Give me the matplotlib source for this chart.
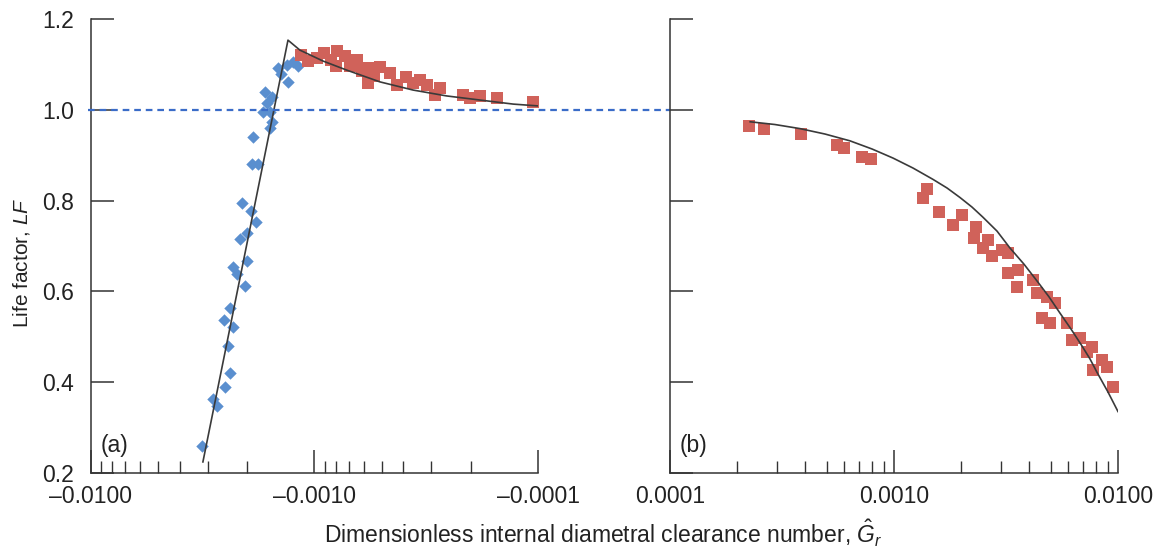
import numpy as np
import matplotlib
matplotlib.use("Agg")
import matplotlib.pyplot as plt
from matplotlib.ticker import FixedLocator, LogLocator, NullFormatter, FuncFormatter

plt.rcParams['font.family'] = ['Liberation Sans', 'DejaVu Sans']
plt.rcParams['mathtext.fontset'] = 'custom'
plt.rcParams['mathtext.rm'] = 'Liberation Sans'
plt.rcParams['mathtext.it'] = 'Liberation Sans:italic'

# ---- data ----
# (a) negative clearance: measured points (blue diamonds)
gr_a_neg = [-0.00319, -0.00283, -0.002734, -0.002509, -0.002384, -0.002426, -0.002318,
            -0.002528, -0.002384, -0.002043, -0.002225, -0.002304, -0.001995, -0.002151,
            -0.002007, -0.00183, -0.001927, -0.002113, -0.001907, -0.001782, -0.001875,
            -0.001579, -0.001552, -0.001692, -0.001579, -0.001634, -0.001552, -0.001663,
            -0.001308, -0.00145, -0.00133, -0.00118, -0.00141, -0.001246]
lf_a_neg = [0.260, 0.362, 0.347, 0.389, 0.421, 0.480, 0.522,
            0.537, 0.563, 0.612, 0.638, 0.654, 0.668, 0.715,
            0.729, 0.752, 0.778, 0.796, 0.882, 0.882, 0.940,
            0.960, 0.974, 0.996, 0.996, 1.015, 1.029, 1.040,
            1.061, 1.092, 1.099, 1.096, 1.079, 1.106]

# (a) negative clearance: measured points (red squares)
gr_a_pos = [-0.001148, -0.001068, -0.000974, -0.000906, -0.000843, -0.000793, -0.000801,
            -0.00073, -0.000693, -0.000645, -0.000613, -0.000576, -0.000576, -0.000542,
            -0.000509, -0.000459, -0.000427, -0.00039, -0.000362, -0.000337, -0.000314,
            -0.000289, -0.000275, -0.000217, -0.000202, -0.000182, -0.000153, -0.000105]
lf_a_pos = [1.121, 1.108, 1.115, 1.126, 1.110, 1.130, 1.097,
            1.119, 1.097, 1.110, 1.086, 1.093, 1.060, 1.075,
            1.095, 1.082, 1.055, 1.073, 1.060, 1.066, 1.055,
            1.033, 1.049, 1.033, 1.026, 1.031, 1.026, 1.018]

# (a) fitted curve
fit_a_gr = [-0.00315, -0.001312, -0.00116, -0.000915, -0.000717, -0.000509, -0.000362,
            -0.000256, -0.000182, -0.000129, -0.0001]
fit_a_lf = [0.224, 1.154, 1.132, 1.108, 1.088, 1.062, 1.044, 1.031, 1.022, 1.013, 1.009]

# (b) positive clearance: measured points
gr_b = [0.000226, 0.000263, 0.000385, 0.000555, 0.0006, 0.000718, 0.000787,
        0.001399, 0.001351, 0.001593, 0.002006, 0.00184, 0.002323, 0.002275,
        0.002636, 0.002489, 0.003026, 0.002731, 0.003238, 0.003588, 0.00353,
        0.004187, 0.004336, 0.004806, 0.005233, 0.004564, 0.00497, 0.005902,
        0.006213, 0.006768, 0.007252, 0.007633, 0.008456, 0.007759, 0.008905,
        0.009528, 0.003238]
lf_b = [0.965, 0.958, 0.946, 0.923, 0.916, 0.896, 0.891,
        0.825, 0.805, 0.776, 0.768, 0.746, 0.743, 0.717,
        0.713, 0.695, 0.691, 0.677, 0.640, 0.647, 0.610,
        0.625, 0.596, 0.588, 0.574, 0.541, 0.530, 0.530,
        0.493, 0.497, 0.467, 0.478, 0.449, 0.427, 0.434,
        0.390, 0.684]

# (b) fitted curve
fit_b_gr = [0.000228, 0.000294, 0.00038, 0.000492, 0.000636, 0.000798, 0.00099,
            0.001216, 0.001493, 0.001725, 0.001971, 0.002229, 0.00249, 0.002883,
            0.00329, 0.003805, 0.00435, 0.00492, 0.00551, 0.006169, 0.0069,
            0.0075, 0.00805, 0.009025, 0.0100]
fit_b_lf = [0.974, 0.968, 0.959, 0.947, 0.932, 0.914, 0.894,
            0.872, 0.847, 0.828, 0.807, 0.786, 0.764, 0.733,
            0.696, 0.660, 0.623, 0.588, 0.552, 0.517, 0.480,
            0.451, 0.422, 0.378, 0.335]

yticks = [0.2, 0.4, 0.6, 0.8, 1.0, 1.2]
xt_values = [0.0001, 0.001, 0.01]
xt_a_labels = ['\u20130.0001', '\u20130.0010', '\u20130.0100']
xt_b_labels = ['0.0001', '0.0010', '0.0100']

# ---- style ----
BLUE = '#5a8fcf'
RED = '#d0625a'
LINE = '#3a3a3a'
DASH = '#3a6cc8'
SPINE = '#333333'
TXT = '#222222'
FS = 16.5


def label_map(labels):
    table = dict(zip(xt_values, labels))

    def fmt(v, pos):
        for k, s in table.items():
            if np.isclose(v, k, rtol=1e-6):
                return s
        return ''
    return FuncFormatter(fmt)


fig = plt.figure(figsize=(11.62, 5.48), dpi=100)
ax1 = fig.add_axes([0.07806, 0.13723, 0.38494, 0.82755])
ax2 = fig.add_axes([0.57659, 0.13723, 0.38554, 0.82755])

for ax in (ax1, ax2):
    ax.set_xscale('log')
    ax.set_ylim(0.2, 1.2)
    for s in ('top', 'right'):
        ax.spines[s].set_visible(False)
    for s in ('left', 'bottom'):
        ax.spines[s].set_color(SPINE)
        ax.spines[s].set_linewidth(1.1)
    ax.xaxis.set_major_locator(FixedLocator(xt_values))
    ax.xaxis.set_minor_locator(LogLocator(base=10, subs=np.arange(2, 10)))
    ax.xaxis.set_minor_formatter(NullFormatter())
    ax.yaxis.set_major_locator(FixedLocator(yticks))
    ax.tick_params(axis='both', which='major', direction='in', length=16.5,
                   width=1.1, color=SPINE, labelsize=FS, labelcolor=TXT)
    ax.tick_params(axis='x', which='minor', direction='in', length=8.5,
                   width=1.0, color=SPINE)
    ax.tick_params(axis='x', which='major', pad=9)
    ax.tick_params(axis='y', which='major', pad=12)

# panel (a): negative clearance on a reversed log axis of |Gr|
ax1.set_xlim(0.01, 0.0001)
ax1.xaxis.set_major_formatter(label_map(xt_a_labels))
ax1.yaxis.set_major_formatter(FuncFormatter(lambda v, p: f'{v:.1f}'))
ax1.scatter(np.abs(gr_a_neg), lf_a_neg, marker='D', s=40, color=BLUE,
            linewidths=0, zorder=2, clip_on=False)
ax1.scatter(np.abs(gr_a_pos), lf_a_pos, marker='s', s=66, color=RED,
            linewidths=0, zorder=2, clip_on=False)
ax1.plot(np.abs(fit_a_gr), fit_a_lf, color=LINE, lw=1.2, zorder=3)

# panel (b)
ax2.set_xlim(0.0001, 0.01)
ax2.xaxis.set_major_formatter(label_map(xt_b_labels))
ax2.tick_params(axis='y', labelleft=False)
ax2.scatter(gr_b, lf_b, marker='s', s=66, color=RED, linewidths=0, zorder=2)
ax2.plot(fit_b_gr, fit_b_lf, color=LINE, lw=1.2, zorder=3)

# reference line LF = 1 running across both panels
ax1.plot([-0.006, 2.138], [1.0, 1.0], transform=ax1.get_yaxis_transform(),
         color=DASH, lw=1.6, dashes=(3.0, 2.2), clip_on=False, zorder=4)

ax1.text(0.022, 0.045, '(a)', transform=ax1.transAxes, fontsize=FS, color=TXT)
ax2.text(0.022, 0.045, '(b)', transform=ax2.transAxes, fontsize=FS, color=TXT)

fig.text(22 / 1162, 1 - 263 / 548, 'Life factor, $LF$', rotation=90,
         ha='center', va='center', fontsize=15, color=TXT)
fig.text(603 / 1162, 1 - 533 / 548,
         r'Dimensionless internal diametral clearance number, $\hat{G}_r$',
         ha='center', va='center', fontsize=FS, color=TXT)

fig.savefig('out.png', dpi=100)
